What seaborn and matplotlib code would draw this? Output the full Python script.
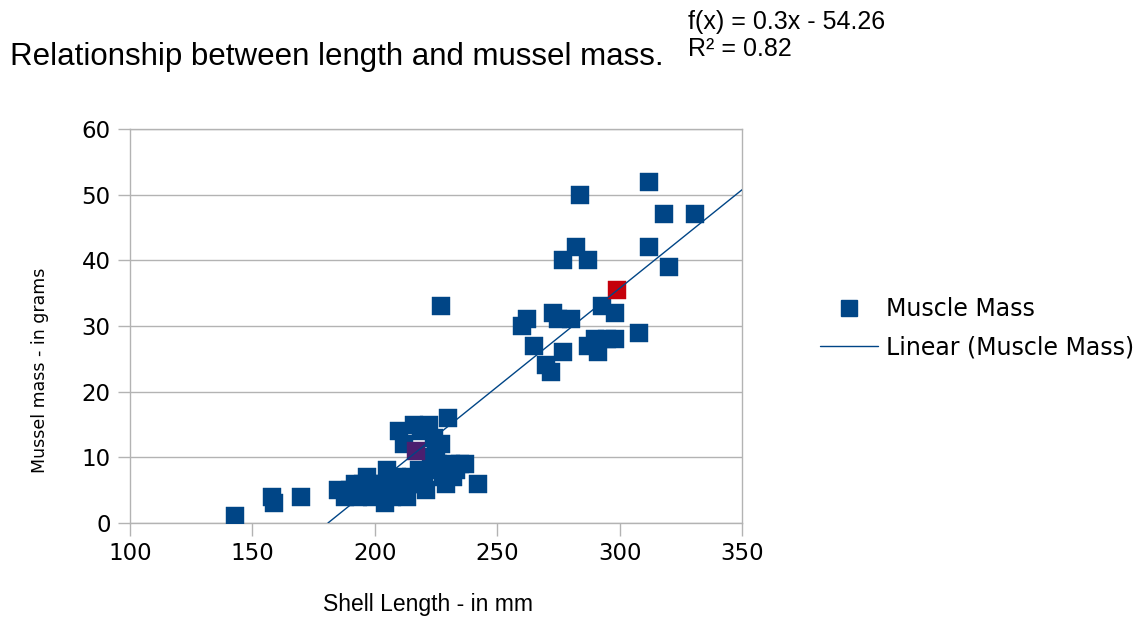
import numpy as np
import pandas as pd
import matplotlib
matplotlib.use("Agg")
import matplotlib.pyplot as plt
import seaborn as sns
from matplotlib.lines import Line2D

# Shell length (mm) and mussel mass (g)
shell_length = [
    143, 158, 159, 170,
    185, 188, 190, 192, 193, 195, 196, 197, 199, 200, 201, 203, 204, 205,
    206, 207, 208, 209, 210, 211, 212, 213, 214, 215, 216, 218, 219, 220,
    221, 222, 223, 224, 225, 225, 226, 227, 228, 229, 230, 231, 232, 233,
    235, 237, 242,
    227, 260, 262, 265, 270, 272, 273, 275, 277, 277, 280, 282, 284, 287,
    287, 290, 291, 293, 295, 298, 298, 308, 312, 312, 318, 320, 331,
]
mussel_mass = [
    1, 4, 3, 4,
    5, 4, 5, 6, 4, 6, 5, 7, 4, 5, 6, 6, 3, 8,
    5, 4, 6, 7, 14, 5, 12, 4, 6, 7, 15, 8, 14, 6,
    5, 15, 10, 13, 11, 8, 9, 12, 7, 6, 16, 9, 7, 8,
    9, 9, 6,
    33, 30, 31, 27, 24, 23, 32, 31, 40, 26, 31, 42, 50, 40,
    27, 28, 26, 33, 28, 32, 28, 29, 42, 52, 47, 39, 47,
]

# highlighted points
highlight_length = [217, 299]
highlight_mass = [11, 35.5]
highlight_colors = ["#4b1f6f", "#c5000b"]

# trend line reported on the chart
slope = 0.3
intercept = -54.26
r_squared = 0.82

blue = "#004586"
grey = "#b3b3b3"

sns.set_theme(style="white")
plt.rcParams["font.family"] = ["DejaVu Sans"]
plt.rcParams["text.color"] = "black"
plt.rcParams["axes.labelcolor"] = "black"

df = pd.DataFrame({"length": shell_length, "mass": mussel_mass})

fig = plt.figure(figsize=(11.44, 6.18), dpi=100)
ax = fig.add_axes([0.1136, 0.1537, 0.535, 0.6376])

sns.scatterplot(data=df, x="length", y="mass", marker="s", s=185, color=blue,
                edgecolor=blue, linewidth=0.3, ax=ax, zorder=3)
for hx, hy, hc in zip(highlight_length, highlight_mass, highlight_colors):
    ax.scatter([hx], [hy], marker="s", s=185, color=hc, edgecolor=hc,
               linewidth=0.3, zorder=4)

ax.axline((0, intercept), slope=slope, color=blue, linewidth=1, zorder=5)

ax.set_xlim(100, 350)
ax.set_ylim(0, 60)
ax.set_xticks(range(100, 351, 50))
ax.set_yticks(range(0, 61, 10))
ax.yaxis.grid(True, color=grey, linewidth=1)
ax.set_axisbelow(True)
for s in ax.spines.values():
    s.set_color(grey)
    s.set_linewidth(1)
ax.tick_params(axis="both", which="major", direction="out", length=9,
               width=1, color=grey, labelcolor="black", labelsize=16.5,
               pad=5, bottom=True, left=True)
ax.set_xlabel("Shell Length - in mm", fontsize=16.5,
              family=["Liberation Sans", "DejaVu Sans"])
ax.xaxis.set_label_coords(0.487, -0.178)
ax.set_ylabel("Mussel mass - in grams", fontsize=12.5)
ax.yaxis.set_label_coords(-0.132, 0.388)

fig.text(0.009, 0.908, "Relationship between length and mussel mass.",
         fontsize=22.5, va="center", ha="left",
         family=["Liberation Sans", "DejaVu Sans"])
fig.text(0.601, 0.965, f"f(x) = {slope}x - {abs(intercept)}", fontsize=18,
         va="center", ha="left", family=["Liberation Sans", "DejaVu Sans"])
fig.text(0.601, 0.921, f"R² = {r_squared}", fontsize=18, va="center", ha="left",
         family=["Liberation Sans", "DejaVu Sans"])

handles = [
    Line2D([], [], marker="s", linestyle="none", color=blue, markersize=11.5),
    Line2D([], [], color=blue, linewidth=1),
]
fig.legend(handles, ["Muscle Mass", "Linear (Muscle Mass)"],
           loc="center left", bbox_to_anchor=(0.717, 0.469), frameon=False,
           fontsize=17, handlelength=2.46, handletextpad=0.34,
           labelspacing=0.6, borderpad=0, borderaxespad=0)

fig.savefig("out.png", dpi=100)
